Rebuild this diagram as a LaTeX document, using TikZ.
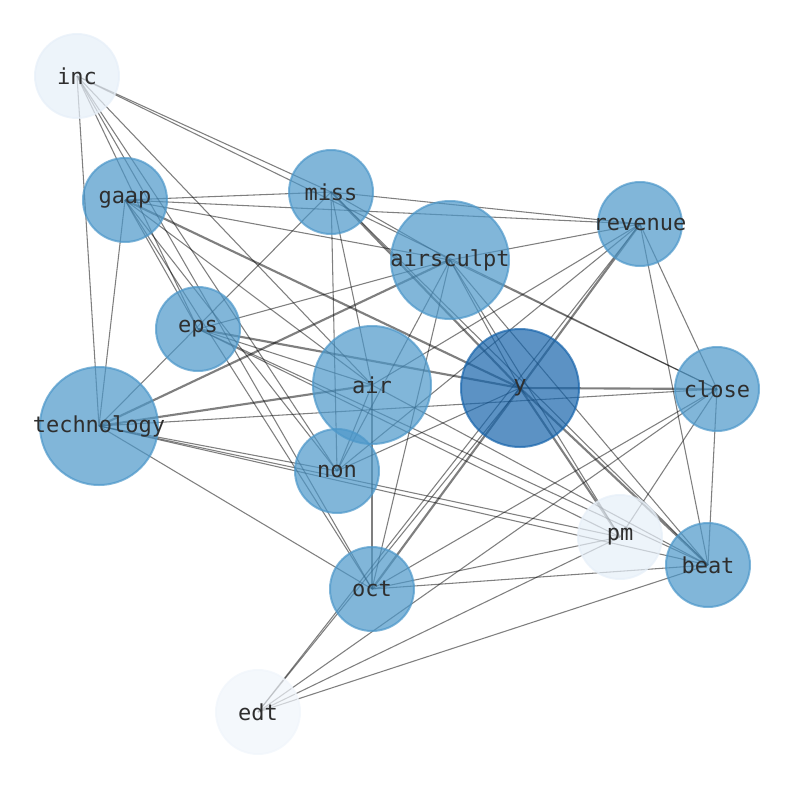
\documentclass[tikz,border=0pt]{standalone}
\usepackage{fontspec}
\setmonofont{DejaVu Sans Mono}
\usetikzlibrary{backgrounds}
\definecolor{midblue}{HTML}{4C97C9}
\definecolor{darkblue}{HTML}{1764AB}
\definecolor{paleblue}{HTML}{E6EFF8}
\definecolor{wordgray}{HTML}{2E2E2E}

\begin{document}
\begin{tikzpicture}[x=0.75pt,y=-0.75pt,
	wordtext/.style={text=wordgray,inner sep=0pt,font=\ttfamily\fontsize{16.5}{18}\selectfont},
	word/.style={circle,fill=midblue,draw=midblue,line width=1.5pt,opacity=0.7,
		minimum size=63pt,inner sep=0pt,label={[wordtext]center:#1}},
	bigword/.style={word=#1,minimum size=88.5pt},
	rareword/.style={word=#1,fill=paleblue,draw=paleblue},
	link/.style={draw=black,opacity=0.5,line width=0.8pt},
	heavylink/.style={link,line width=1.6pt}]
\useasboundingbox (0,0) rectangle (794,790);
% words
\node[rareword=inc] (inc) at (77,76) {};
\node[word=gaap] (gaap) at (125,200) {};
\node[word=miss] (miss) at (331,192) {};
\node[bigword=airsculpt] (airsculpt) at (450,260) {};
\node[word=revenue] (revenue) at (640,224) {};
\node[word=eps] (eps) at (198,329) {};
\node[bigword=air] (air) at (372,385) {};
\node[bigword=y,fill=darkblue,draw=darkblue] (y) at (520,388) {};
\node[word=close] (close) at (717,389) {};
\node[bigword=technology] (technology) at (99,426) {};
\node[word=non] (non) at (337,471) {};
\node[rareword=pm] (pm) at (620,537) {};
\node[word=beat] (beat) at (708,565) {};
\node[word=oct] (oct) at (372,589) {};
\node[rareword=edt,fill=paleblue!60,draw=paleblue!60] (edt) at (258,712) {};
% co-occurrences
\begin{scope}[on background layer]
\foreach \a/\b in {inc/technology, inc/eps, inc/non, inc/oct, inc/air, inc/miss, inc/close,
	gaap/miss, gaap/revenue, gaap/airsculpt, gaap/technology, gaap/eps, gaap/non, gaap/oct, gaap/air,
	miss/revenue, miss/airsculpt, miss/technology, miss/non, miss/air, miss/beat,
	eps/airsculpt, eps/air, eps/pm, eps/beat,
	airsculpt/revenue, airsculpt/oct, airsculpt/non, airsculpt/y, airsculpt/close, airsculpt/beat, airsculpt/pm,
	air/non, air/oct, air/beat, y/non, y/edt,
	revenue/close, revenue/beat, revenue/air, revenue/non, revenue/edt,
	technology/close, technology/non, technology/beat, technology/pm, technology/oct,
	close/oct, close/edt, close/pm, close/beat, oct/beat, oct/pm, edt/pm, edt/beat}
	\draw[link] (\a.center) -- (\b.center);
\foreach \a/\b in {gaap/y, miss/y, eps/y, technology/airsculpt, technology/air,
	y/revenue, y/close, y/oct, y/pm, y/beat}
	\draw[heavylink] (\a.center) -- (\b.center);
\end{scope}
\end{tikzpicture}
\end{document}
